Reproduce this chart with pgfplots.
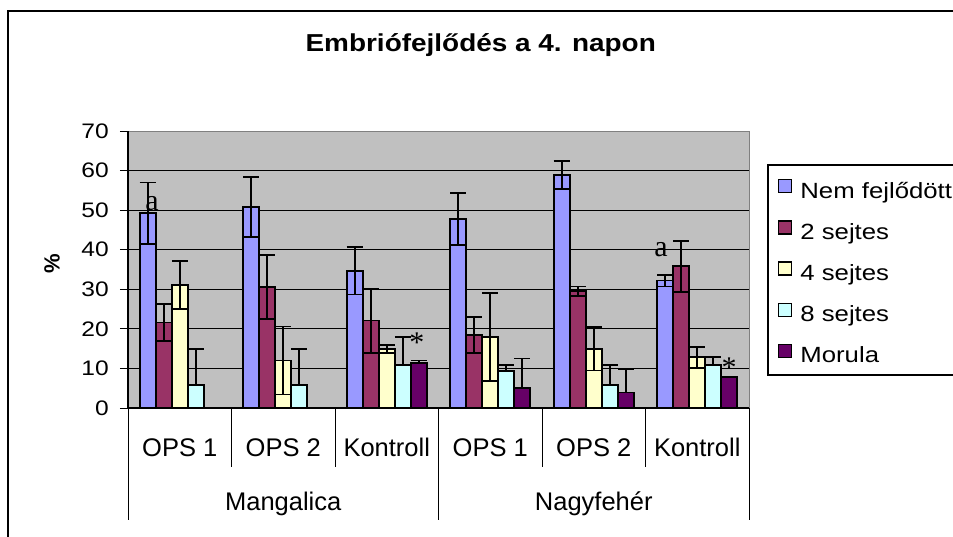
\documentclass[border=0pt]{standalone}
\usepackage{fontspec}
\setmainfont{Liberation Sans}
\newfontfamily\widesans{Liberation Sans}[FakeStretch=1.17]
\newfontfamily\titlesans{Liberation Sans}[FakeStretch=1.14]
\newfontfamily\marksf{Liberation Serif}
\usepackage{pgfplots}
\usepackage{pgfplotstable}
\pgfplotsset{compat=1.18}

\definecolor{cNem}{HTML}{9999FF}
\definecolor{cKet}{HTML}{993366}
\definecolor{cNegy}{HTML}{FFFFCC}
\definecolor{cNyolc}{HTML}{CCFFFF}
\definecolor{cMor}{HTML}{660066}
\definecolor{plotbg}{HTML}{C0C0C0}

% mean and error per category (0-2 Mangalica, 3-5 Nagyfeher)
\pgfplotstableread{
x nem nemE ket ketE negy negyE nyolc nyolcE mor morE
0 49.2 7.8 21.6 4.7 31.1 6.1  5.9 9.1  0.0 0.0
1 50.8 7.6 30.6 8.1 12.0 8.6  5.9 9.1  0.0 0.0
2 34.7 6.0 22.1 8.1 15.0 1.0 10.9 7.1 11.4 0.6
3 47.8 6.6 18.4 4.6 17.9 11.1 9.4 1.5  5.0 7.5
4 58.9 3.5 29.5 1.2 15.0 5.5  5.8 5.1  3.9 6.0
5 32.2 1.5 35.8 6.5 12.8 2.7 10.9 2.0  7.9 0.0
}\embrio

\begin{document}
\begin{tikzpicture}
\useasboundingbox (0pt,0pt) rectangle (953pt,536pt);
\clip (0pt,0pt) rectangle (953pt,536pt);
\draw[line width=1.6pt] (8pt,525pt) rectangle (1000pt,-20pt);
\draw[line width=1.4pt] (768pt,371pt) rectangle (1000pt,161pt);
\begin{axis}[
  at={(128pt,128pt)}, anchor=south west,
  scale only axis, width=621pt, height=277pt,
  ybar=0pt, bar width=0.1546,
  xmin=-0.5, xmax=5.5, ymin=0, ymax=70,
  xtick={0,...,5},
  xticklabels={OPS 1,OPS 2,Kontroll,OPS 1,OPS 2,Kontroll},
  x tick style={draw=none},
  xticklabel style={font=\fontsize{25.5}{28}\selectfont, anchor=base, yshift=-40pt},
  ytick={0,10,...,70}, ytick pos=left,
  tick align=outside, major tick length=8pt,
  y tick style={black, line width=1pt},
  yticklabel style={font=\widesans\fontsize{21}{24}\selectfont, anchor=east, inner sep=0pt, xshift=-11pt},
  /pgf/number format/assume math mode=true,
  ymajorgrids, major grid style={black, line width=0.9pt},
  axis background/.style={fill=plotbg},
  axis line style={draw=gray, line width=1pt},
  clip mode=individual,
  title={\titlesans\bfseries\fontsize{24.5}{27}\selectfont Embriófejlődés a 4. napon},
  title style={at={(axis description cs:0.568,1.267)}, anchor=base, inner sep=0pt},
  ylabel={\bfseries\fontsize{22}{24}\selectfont \%},
  ylabel style={at={(axis description cs:-0.1224,0.52)}, anchor=center, inner sep=0pt},
  legend style={at={(axis description cs:1.0467,0.8267)}, anchor=north west,
    draw=none, fill=none, inner sep=0pt, row sep=17pt, column sep=8pt,
    font=\widesans\fontsize{22}{24}\selectfont,
    nodes={inner sep=0pt, text height=16pt, text depth=5pt}},
  legend cell align=left,
  every axis plot post/.append style={draw=black, line width=1.8pt,
    legend image code/.code={\draw[##1, line width=1.2pt] (0pt,0pt) rectangle (13pt,13pt);}},
  error bars/y dir=both, error bars/y explicit,
  error bars/error bar style={black, line width=1.8pt},
  error bars/error mark options={black, line width=1.8pt, mark size=8pt, rotate=90},
]
\addplot[fill=cNem] table[x=x, y=nem, y error=nemE] {\embrio};
\addlegendentry{Nem fejlődött}
\addplot[fill=cKet] table[x=x, y=ket, y error=ketE] {\embrio};
\addlegendentry{2 sejtes}
\addplot[fill=cNegy] table[x=x, y=negy, y error=negyE] {\embrio};
\addlegendentry{4 sejtes}
\addplot[fill=cNyolc, error bars/y dir=plus] table[x=x, y=nyolc, y error=nyolcE] {\embrio};
\addlegendentry{8 sejtes}
\addplot[fill=cMor, error bars/y dir=plus] table[x=x, y=mor, y error=morE] {\embrio};
\addlegendentry{Morula}

\draw[black, line width=1.2pt] (axis cs:-0.5,70) -- (axis cs:-0.5,0) -- (axis cs:5.5,0);
\pgfplotsinvokeforeach{-0.5,2.5,5.5}{
  \draw[black, line width=0.9pt] (axis cs:#1,0) -- ++(0pt,-112pt);}
\pgfplotsinvokeforeach{0.5,1.5,3.5,4.5}{
  \draw[black, line width=0.9pt] (axis cs:#1,0) -- ++(0pt,-59pt);}
\node[font=\fontsize{25.5}{28}\selectfont, anchor=base] at ([yshift=-102pt]axis cs:1,0) {Mangalica};
\node[font=\fontsize{25.5}{28}\selectfont, anchor=base] at ([yshift=-102pt]axis cs:4,0) {Nagyfehér};
\node[font=\marksf\fontsize{30}{30}\selectfont, anchor=base] at (axis cs:-0.268,50.0) {a};
\node[font=\marksf\fontsize{30}{30}\selectfont, anchor=base] at (axis cs:4.65,38.2) {a};
\node[font=\marksf\fontsize{30}{30}\selectfont, anchor=base] at (axis cs:2.29,14.0) {*};
\node[font=\marksf\fontsize{30}{30}\selectfont, anchor=base] at (axis cs:5.307,7.66) {*};
\end{axis}
\end{tikzpicture}
\end{document}
